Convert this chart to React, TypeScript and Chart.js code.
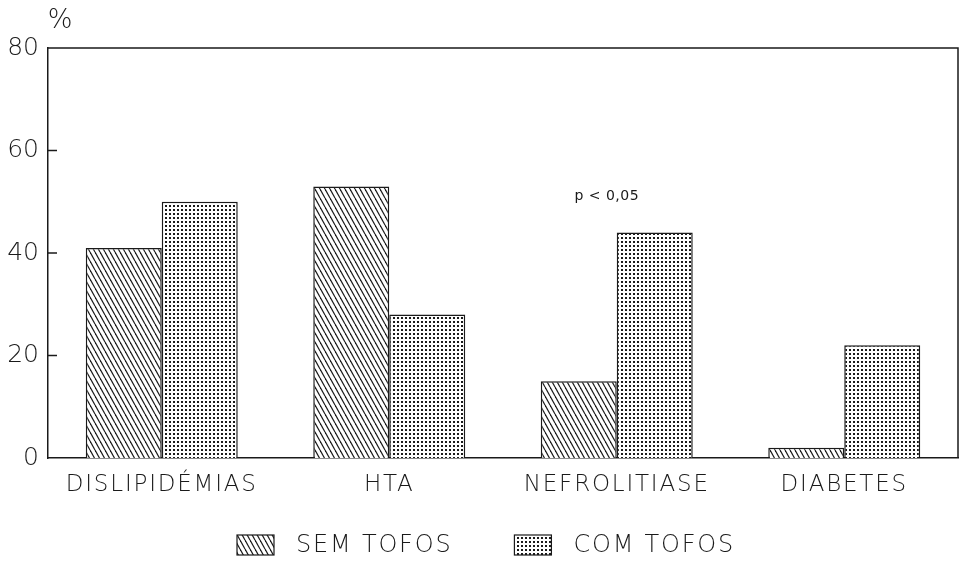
import React, { useEffect, useRef } from "react";
import { Chart, registerables } from "chart.js";

Chart.register(...registerables);

const categories = ["DISLIPIDÉMIAS", "HTA", "NEFROLITIASE", "DIABETES"];
const semTofos = [41, 53, 15, 2];
const comTofos = [50, 28, 44, 22];
const seriesNames = ["SEM TOFOS", "COM TOFOS"];
const yTickValues = [0, 20, 40, 60, 80];
const annotationText = "p < 0,05";
const annotationCategory = 2;
const annotationValue = 51;
const unitLabel = "%";

const FONT = "'DejaVu Sans', sans-serif";
const INK = "#1a1a1a";

function makeHatch(): CanvasPattern | string {
  const c = document.createElement("canvas");
  const w = 5, h = 9;
  c.width = w;
  c.height = h;
  const ctx = c.getContext("2d");
  if (!ctx) return "#888";
  ctx.fillStyle = "#fff";
  ctx.fillRect(0, 0, w, h);
  ctx.strokeStyle = INK;
  ctx.lineWidth = 1.2;
  for (const dx of [-w, 0, w]) {
    ctx.beginPath();
    ctx.moveTo(dx, 0);
    ctx.lineTo(dx + w, h);
    ctx.stroke();
  }
  return ctx.createPattern(c, "repeat") || "#888";
}

function makeDots(): CanvasPattern | string {
  const c = document.createElement("canvas");
  c.width = 4;
  c.height = 4;
  const ctx = c.getContext("2d");
  if (!ctx) return "#888";
  ctx.fillStyle = "#fff";
  ctx.fillRect(0, 0, 4, 4);
  ctx.fillStyle = INK;
  ctx.fillRect(1, 1, 2, 2);
  return ctx.createPattern(c, "repeat") || "#888";
}

export default function App() {
  const ref = useRef<HTMLCanvasElement | null>(null);

  useEffect(() => {
    document.body.style.margin = "0";
    const canvas = ref.current;
    if (!canvas) return;
    const hatch = makeHatch();
    const dots = makeDots();

    const decor = {
      id: "decor",
      beforeDraw(chart: any) {
        chart.ctx.letterSpacing = "0px";
      },
      afterDatasetsDraw(chart: any) {
        // category labels (x tick layer, drawn after datasets) get wide tracking
        chart.ctx.letterSpacing = "1.8px";
      },
      afterDraw(chart: any) {
        const { ctx, chartArea } = chart;
        const y = chart.scales.y;
        const x = chart.scales.x;
        ctx.save();
        ctx.letterSpacing = "0px";
        // frame
        ctx.strokeStyle = INK;
        ctx.lineWidth = 1.5;
        ctx.beginPath();
        ctx.moveTo(chartArea.left, chartArea.top);
        ctx.lineTo(chartArea.right, chartArea.top);
        ctx.lineTo(chartArea.right, chartArea.bottom);
        ctx.stroke();
        // inner ticks
        for (const v of yTickValues) {
          if (v === 0 || v === 80) continue;
          const py = y.getPixelForValue(v);
          ctx.beginPath();
          ctx.moveTo(chartArea.left, py);
          ctx.lineTo(chartArea.left + 9, py);
          ctx.stroke();
        }
        // unit label
        ctx.fillStyle = INK;
        ctx.font = `200 26px ${FONT}`;
        ctx.textAlign = "center";
        ctx.textBaseline = "middle";
        ctx.fillText(unitLabel, chartArea.left + 12, chartArea.top - 27);
        // annotation
        ctx.font = `14px ${FONT}`;
        ctx.letterSpacing = "0.5px";
        ctx.fillText(
          annotationText,
          x.getPixelForValue(annotationCategory) - 10,
          y.getPixelForValue(annotationValue)
        );
        // legend
        const ds = chart.data.datasets;
        const boxW = 37, boxH = 20, gapText = 22, gapItem = 62;
        ctx.font = `200 24px ${FONT}`;
        ctx.letterSpacing = "1.8px";
        const widths = ds.map((d: any) => ctx.measureText(d.label).width);
        const total =
          widths.reduce((a: number, b: number) => a + b, 0) +
          ds.length * (boxW + gapText) +
          (ds.length - 1) * gapItem;
        let cx = Math.round(chart.width / 2 - total / 2) + 5;
        const ly = 545;
        ds.forEach((d: any, i: number) => {
          ctx.fillStyle = d.backgroundColor;
          ctx.fillRect(cx, ly - boxH / 2, boxW, boxH);
          ctx.lineWidth = 1.2;
          ctx.strokeStyle = INK;
          ctx.strokeRect(cx, ly - boxH / 2, boxW, boxH);
          ctx.fillStyle = INK;
          ctx.textAlign = "left";
          ctx.fillText(d.label, cx + boxW + gapText, ly + 1);
          cx += boxW + gapText + widths[i] + gapItem;
        });
        ctx.restore();
        ctx.letterSpacing = "0px";
      },
    };

    const chart = new Chart(canvas, {
      type: "bar",
      data: {
        labels: categories,
        datasets: [
          {
            label: seriesNames[0],
            data: semTofos,
            backgroundColor: hatch as any,
            borderColor: INK,
            borderWidth: 1.5,
            categoryPercentage: 0.668,
            barPercentage: 1,
          },
          {
            label: seriesNames[1],
            data: comTofos,
            backgroundColor: dots as any,
            borderColor: INK,
            borderWidth: 1.5,
            categoryPercentage: 0.668,
            barPercentage: 1,
          },
        ],
      },
      options: {
        responsive: false,
        animation: false,
        layout: { padding: { left: 0, right: 4, top: 48, bottom: 58 } },
        plugins: {
          legend: { display: false },
          tooltip: { enabled: false },
        },
        scales: {
          x: {
            grid: { display: false, drawTicks: false },
            border: { display: true, color: INK, width: 1.5 },
            ticks: {
              z: 1,
              color: INK,
              padding: 13,
              font: { family: FONT, size: 23, weight: 200 as any },
            },
            afterFit: (s: any) => {
              s.height = 45;
            },
          },
          y: {
            min: 0,
            max: 80,
            grid: { display: false, drawTicks: false },
            border: { display: true, color: INK, width: 1.5 },
            afterBuildTicks: (s: any) => {
              s.ticks = yTickValues.map((v) => ({ value: v }));
            },
            ticks: {
              color: INK,
              padding: 9,
              font: { family: FONT, size: 25, weight: 200 as any },
            },
            afterFit: (s: any) => {
              s.width = 48;
            },
          },
        },
      },
      plugins: [decor],
    });
    return () => chart.destroy();
  }, []);

  return (
    <div style={{ width: 962, height: 561 }}>
      <canvas ref={ref} width={962} height={561} style={{ display: "block", width: 962, height: 561 }} />
    </div>
  );
}
